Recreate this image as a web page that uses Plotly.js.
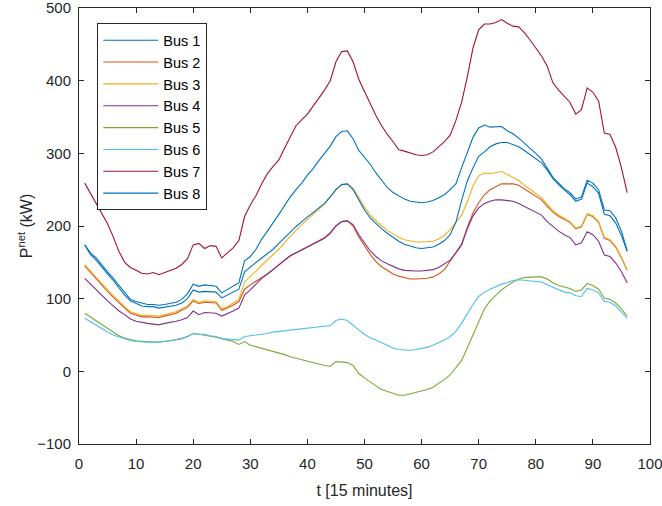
<!DOCTYPE html>
<html>
<head>
<meta charset="utf-8">
<script src="https://cdn.plot.ly/plotly-3.0.1.min.js"></script>
<style>html,body{margin:0;padding:0;background:#fff;}#chart{width:662px;height:506px;}</style>
</head>
<body>
<div id="chart"></div>
<script>
const busNames = ["Bus 1","Bus 2","Bus 3","Bus 4","Bus 5","Bus 6","Bus 7","Bus 8"];
const busColors = ["#0072BD","#D95319","#EDB120","#7E2F8E","#77AC30","#4DBEEE","#A2142F","#0072BD"];

const bus1 = [174,163,156,146,137,128,118,108,99,96,94,92,92,91,92,93,95,99,107,120,117,119,118,117,108,113,118,122,152,
  158,168,182,193,204,216,228,240,250,259,270,279,290,300,310,323,330,331,320,304,294,285,273,263,253,246,241,237,234,233,232,
  233,235,239,243,250,258,280,300,322,335,339,336,336,337,331,327,321,314,308,300,292,280,267,259,251,246,237,240,263,259,250,222,221,211,193,166];
const bus2 = [145,136,127,119,110,102,94,87,80,77,75,75,74,74,76,78,80,84,88,97,93,95,95,94,84,87,91,96,113,
  119,124,128,134,140,147,153,159,163,167,171,175,179,184,191,200,206,207,200,185,173,161,151,144,139,134,131,129,127,127,127,
  128,130,134,140,152,163,175,198,218,232,243,250,254,258,258,258,256,251,246,241,236,227,219,213,209,205,196,199,216,213,205,183,180,171,156,139];
const bus3 = [147,138,129,121,112,104,96,89,82,79,77,77,76,76,78,80,82,86,90,99,95,97,97,96,86,89,94,99,123,
  130,138,146,153,160,168,177,186,194,202,209,216,223,230,240,250,257,258,252,238,226,215,207,200,194,189,184,181,179,178,178,
  178,179,182,187,195,205,215,233,255,269,273,272,273,275,271,267,263,256,250,244,239,230,221,215,210,206,197,200,217,214,206,184,181,172,157,139];
const bus4 = [128,120,113,105,97,90,83,78,72,69,67,66,65,64,66,67,69,71,74,83,78,81,81,80,76,79,83,87,105,
  112,120,128,134,140,147,153,159,163,167,171,175,179,183,190,200,206,207,202,188,177,166,158,152,148,144,141,139,138,138,138,
  139,140,143,148,153,163,174,196,214,225,231,234,236,236,235,234,231,227,222,219,215,206,199,193,188,184,174,177,192,188,179,160,158,149,137,122];
const bus5 = [80,75,69,64,59,54,49,46,44,42,41.5,41,40.5,40,41,42,43,45,48,52,51,50,48,47,45,43,41,37,41,
  36,34,32,30,27,25,23,20,18,16,13,11,9,8,7,13,13,12,8,-3,-9,-15,-20,-25,-28,-31,-33,-33,-31,-30,-28,
  -25,-22,-17,-11,-5,5,15,32,50,68,86,97,105,112,118,123,127,129,130,130,130,127,122,118,116,114,110,112,121,118,113,101,99,94,86,76];
const bus6 = [73,68,63,59,54,50,47,44,42,41,40,40,40,40,41,42,43,45,48,52,51,51,49,48,45,44,43,43,48,
  49,50,51,52,54,55,56,57,58,59,60,60,61,62,63,70,72,70,63,57,51,46,43,39,35,32,30,29,29,30,31,
  33,36,39,43,48,55,66,80,92,103,109,113,117,120,122,125,126,125,125,124,123,119,116,112,109,108,104,103,114,112,108,96,95,90,82,73];
const bus7 = [259,245,232,218,203,185,165,150,143,139,135,134,136,133,136,139,142,147,155,174,176,169,173,172,156,163,170,180,213,
  229,242,258,272,282,291,307,323,338,346,354,365,376,387,400,426,440,441,426,402,385,368,352,338,326,316,305,303,300,298,297,
  298,302,309,316,325,345,370,405,445,470,478,478,480,484,479,475,474,466,456,445,434,420,397,387,378,370,354,360,390,384,372,328,326,308,280,246];
const bus8 = [174,161,153,143,134,125,115,105,97,93,90,89,89,87,88,89,91,94,100,112,109,110,110,109,101,105,109,113,137,
  144,150,156,162,168,176,184,192,199,206,212,218,224,231,240,250,257,258,250,235,222,211,203,196,190,184,179,175,172,170,169,
  170,171,175,180,188,205,235,262,280,296,302,309,313,315,315,312,309,304,298,293,287,277,265,257,250,243,234,237,259,254,245,216,214,204,187,165];

const series = [bus1,bus2,bus3,bus4,bus5,bus6,bus7,bus8];
const tvals = bus1.map((_, i) => i + 1);

const traces = series.map((ys, k) => ({
  x: tvals, y: ys, type: 'scatter', mode: 'lines', name: busNames[k],
  legendgroup: 'g' + k,
  line: {color: busColors[k], width: 1.1}
}));

const fontFam = '"Liberation Sans", Arial, Helvetica, sans-serif';
const layout = {
  width: 662, height: 506,
  margin: {l: 79, r: 12, t: 8, b: 62},
  paper_bgcolor: '#fff', plot_bgcolor: '#fff',
  font: {family: fontFam, size: 15, color: '#262626'},
  showlegend: true,
  legend: {
    x: 0.032, y: 0.965, xanchor: 'left', yanchor: 'top',
    bordercolor: '#262626', borderwidth: 1, bgcolor: '#fff',
    font: {family: fontFam, size: 14.5, color: '#000'},
    tracegroupgap: 0, itemwidth: 55
  },
  xaxis: {
    range: [0, 100], dtick: 10, tick0: 0,
    showline: true, linecolor: '#262626', linewidth: 1, mirror: 'ticks',
    ticks: 'inside', ticklen: 5, tickcolor: '#262626',
    showgrid: false, zeroline: false,
    ticklabeloverflow: 'allow', ticklabelstandoff: 6,
    tickfont: {size: 15, color: '#262626'},
    title: {text: 't [15 minutes]', font: {size: 16, color: '#262626'}, standoff: 13}
  },
  yaxis: {
    range: [-100, 500], dtick: 100, tick0: 0,
    showline: true, linecolor: '#262626', linewidth: 1, mirror: 'ticks',
    ticks: 'inside', ticklen: 5, tickcolor: '#262626',
    showgrid: false, zeroline: false,
    ticklabeloverflow: 'allow', ticklabelstandoff: 4,
    tickfont: {size: 15, color: '#262626'},
    title: {text: 'P<sup>net</sup> (kW)', font: {size: 16, color: '#262626'}, standoff: 0}
  }
};

Plotly.newPlot('chart', traces, layout, {displayModeBar: false, staticPlot: true});
</script>
</body>
</html>
